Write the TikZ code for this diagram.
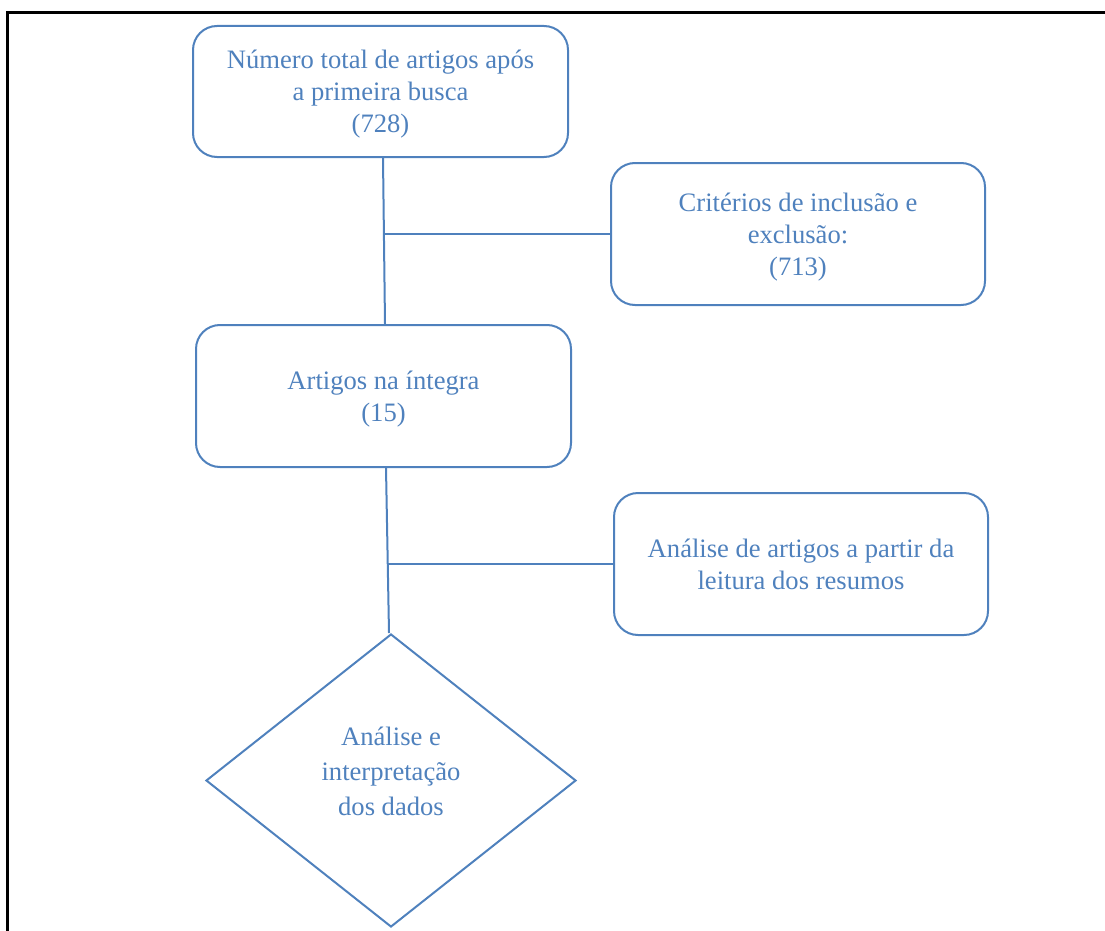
\documentclass[tikz,border=0pt]{standalone}
\usepackage{fontspec}
\setmainfont{Liberation Serif}
\usepackage{tikz}
\usetikzlibrary{shapes.geometric}

\definecolor{flowblue}{RGB}{79,129,189}

\begin{document}
\begin{tikzpicture}[x=1pt,y=-1pt,line width=2pt,
flowbox/.style={draw=flowblue,rectangle,rounded corners=24pt,inner sep=0pt,minimum width=375pt,minimum height=142pt,
  align=center,text=flowblue,text depth=-2pt,font=\fontsize{26.6}{32}\selectfont},
flowdiam/.style={draw=flowblue,diamond,inner sep=0pt,minimum width=370pt,minimum height=293pt},
flowtext/.style={align=center,text=flowblue,font=\fontsize{26.6}{35}\selectfont}]
\useasboundingbox (0,0) rectangle (1105,931);
\clip (0,0) rectangle (1105,931);
\draw[black,line width=3pt] (7,13) rectangle (1120,950);
\draw (380.5,91.5) node[flowbox,minimum height=131pt] (busca) {N\'umero total de artigos ap\'os\\a primeira busca\\(728)};
\draw (798,234) node[flowbox,minimum width=374pt] (criterios) {Crit\'erios de inclus\~ao e\\exclus\~ao:\\(713)};
\draw (383.5,396) node[flowbox] (integra) {Artigos na \'integra\\(15)};
\draw (801,564) node[flowbox,minimum width=374pt] (resumos) {An\'alise de artigos a partir da\\leitura dos resumos};
\draw (391,780.5) node[flowdiam] (dados) {};
\draw (391,771) node[flowtext] (dadostxt) {An\'alise e\\interpreta\c{c}\~ao\\dos dados};
\coordinate (j1) at (385,234);
\coordinate (j2) at (388,564);
\draw[flowblue] ([xshift=2.5pt]busca.south) -- ([xshift=1.5pt]integra.north);
\draw[flowblue] (criterios.west) -- (j1);
\draw[flowblue] ([xshift=2.5pt]integra.south) -- ([xshift=-2pt]dados.north);
\draw[flowblue] (resumos.west) -- (j2);
\end{tikzpicture}
\end{document}
